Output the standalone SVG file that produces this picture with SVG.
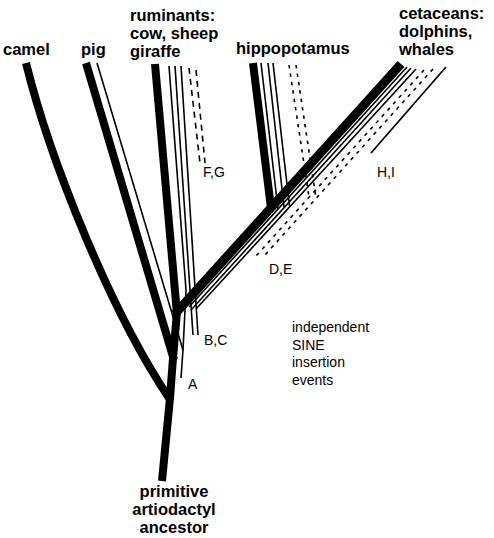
<svg xmlns="http://www.w3.org/2000/svg" width="494" height="538" viewBox="0 0 494 538">
<style>
.thick{fill:none;stroke:#000;stroke-width:8;stroke-linecap:butt;stroke-linejoin:round}
.thin{fill:none;stroke:#000;stroke-width:1.6;stroke-linecap:butt;stroke-linejoin:round}
.dashR{fill:none;stroke:#000;stroke-width:1.6;stroke-dasharray:6 5}
.dashC{fill:none;stroke:#000;stroke-width:1.6;stroke-dasharray:3.5 5}
.tax{font-family:"Liberation Sans",Arial,sans-serif;font-weight:bold;font-size:16.5px;fill:#000}
.lab{font-family:"Liberation Sans",Arial,sans-serif;font-size:14px;fill:#000}
</style>
<rect width="494" height="538" fill="#fff"/>
<g id="connectors">
  <!-- trunk and main lineage -->
  <path class="thick" d="M162,481 L170,398 L173,358 L177,312"/>
  <!-- camel -->
  <path class="thick" d="M169,398 C110,310 50,160 26,63"/>
  <!-- pig -->
  <path class="thick" d="M86,63 L174,360"/>
  <path class="thin" d="M97,63 L183,350 L181,378"/>
  <!-- ruminants -->
  <path class="thick" d="M177,314 L155,64"/>
  <path class="thin" d="M169,66 L186,290 L183,350"/>
  <path class="thin" d="M175,66 L193,335"/>
  <path class="thin" d="M181,66 L198,335"/>
  <path class="dashR" d="M189,68 L200,163"/>
  <path class="dashR" d="M196,70 L205,163"/>
  <!-- cetaceans -->
  <path class="thick" style="stroke-width:9" d="M175,314 L401,64"/>
  <path class="thin" d="M189,307 L407,67"/>
  <path class="thin" d="M191,310 L411,68"/>
  <path class="thin" d="M196,309 L416,69"/>
  <path class="dashC" d="M424,70 L256,256"/>
  <path class="dashC" d="M433,69 L264,256"/>
  <path class="thin" style="stroke-width:1.8" d="M446,67 L371,153"/>
  <!-- hippopotamus -->
  <path class="thick" d="M253,63 L271,208"/>
  <path class="thin" d="M261,63 L278,209"/>
  <path class="thin" d="M268,63 L284,207"/>
  <path class="thin" d="M273,63 L289.5,206"/>
  <path class="dashC" d="M289,65 L309,197"/>
  <path class="dashC" d="M296,65 L316,198"/>
</g>
<g id="camel"><text class="tax" x="3" y="55">camel</text></g>
<g id="pig"><text class="tax" x="81" y="55">pig</text></g>
<g id="ruminants"><text class="tax" x="130" y="21">ruminants:</text><text class="tax" x="130" y="39">cow, sheep</text><text class="tax" x="130" y="57">giraffe</text></g>
<g id="hippopotamus"><text class="tax" x="236" y="54">hippopotamus</text></g>
<g id="cetaceans"><text class="tax" x="399" y="19">cetaceans:</text><text class="tax" x="399" y="37">dolphins,</text><text class="tax" x="399" y="55">whales</text></g>
<g id="ancestor"><text class="tax" text-anchor="middle" x="174" y="497">primitive</text><text class="tax" text-anchor="middle" x="174" y="515">artiodactyl</text><text class="tax" text-anchor="middle" x="174" y="533">ancestor</text></g>
<g id="events">
  <text class="lab" x="188" y="389">A</text>
  <text class="lab" x="204" y="345">B,C</text>
  <text class="lab" x="269" y="274">D,E</text>
  <text class="lab" x="203" y="177">F,G</text>
  <text class="lab" x="377" y="177">H,I</text>
  <text class="lab" x="292" y="332">independent</text>
  <text class="lab" x="292" y="350">SINE</text>
  <text class="lab" x="292" y="367">insertion</text>
  <text class="lab" x="292" y="385">events</text>
</g>
</svg>
